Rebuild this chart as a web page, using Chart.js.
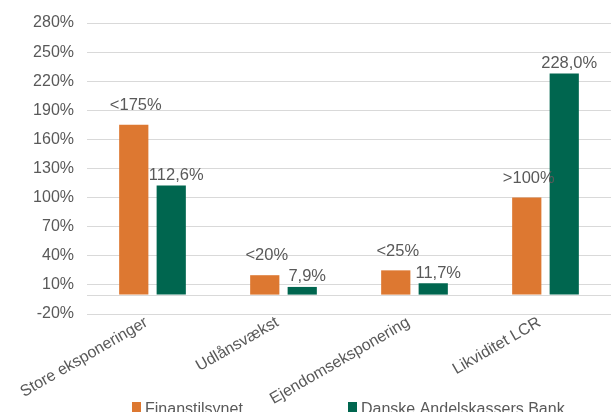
<!DOCTYPE html>
<html>
<head>
<meta charset="utf-8">
<script src="https://cdn.jsdelivr.net/npm/chart.js@4"></script>
<style>
  body { margin: 0; background: #fff; }
  #wrap { width: 611px; height: 412px; position: relative; }
</style>
</head>
<body>
<div id="wrap"><canvas id="chart"></canvas></div>
<script>
// data
const categories = ['Store eksponeringer', 'Udlånsvækst', 'Ejendomseksponering', 'Likviditet LCR'];
const seriesNames = ['Finanstilsynet', 'Danske Andelskassers Bank'];
const finansValues = [175, 20, 25, 100];
const bankValues = [112.6, 7.9, 11.7, 228.0];
const finansLabels = ['<175%', '<20%', '<25%', '>100%'];
const bankLabels = ['112,6%', '7,9%', '11,7%', '228,0%'];
const yTicks = [-20, 10, 40, 70, 100, 130, 160, 190, 220, 250, 280];

const ORANGE = '#DD7831';
const GREEN = '#00664F';
const TEXT = '#595959';
const GRID = '#d9d9d9';
const FONT = '"Liberation Sans", Arial, sans-serif';

// labels over the bars
const barLabels = {
    id: 'barLabels',
    afterDatasetsDraw(chart) {
        const ctx = chart.ctx;
        const all = [finansLabels, bankLabels];
        const dx = [2, 5];
        const dy = [14, 5];
        ctx.save();
        ctx.font = '16.5px ' + FONT;
        ctx.fillStyle = TEXT;
        ctx.textAlign = 'center';
        ctx.textBaseline = 'bottom';
        chart.data.datasets.forEach((ds, i) => {
            chart.getDatasetMeta(i).data.forEach((bar, j) => {
                ctx.fillText(all[i][j], bar.x + dx[i], bar.y - dy[i] + 3);
            });
        });
        ctx.restore();
    }
};

// line at 0 (axis line)
const zeroLine = {
    id: 'zeroLine',
    beforeDatasetsDraw(chart) {
        const ctx = chart.ctx;
        const y = Math.round(chart.scales.y.getPixelForValue(0)) + 0.5;
        ctx.save();
        ctx.strokeStyle = GRID;
        ctx.lineWidth = 1;
        ctx.beginPath();
        ctx.moveTo(chart.chartArea.left, y);
        ctx.lineTo(chart.chartArea.right, y);
        ctx.stroke();
        ctx.restore();
    }
};

// legend at the bottom, like the original
const bottomLegend = {
    id: 'bottomLegend',
    afterDraw(chart) {
        const ctx = chart.ctx;
        const xs = [132, 348];
        ctx.save();
        ctx.font = '16px ' + FONT;
        ctx.textAlign = 'left';
        ctx.textBaseline = 'alphabetic';
        chart.data.datasets.forEach((ds, i) => {
            ctx.fillStyle = ds.backgroundColor;
            ctx.fillRect(xs[i], 402, 9, 10);
            ctx.fillStyle = TEXT;
            ctx.fillText(ds.label, xs[i] + 13, 413.5);
        });
        ctx.restore();
    }
};

const chart = new Chart(document.getElementById('chart'), {
    type: 'bar',
    data: {
        labels: categories,
        datasets: [{
            label: seriesNames[0],
            data: finansValues,
            backgroundColor: ORANGE,
            categoryPercentage: 0.572,
            barPercentage: 0.78
        }, {
            label: seriesNames[1],
            data: bankValues,
            backgroundColor: GREEN,
            categoryPercentage: 0.572,
            barPercentage: 0.78
        }]
    },
    options: {
        responsive: true,
        maintainAspectRatio: false,
        animation: false,
        layout: { padding: { top: 23, right: -3, bottom: 0, left: 0 } },
        plugins: {
            legend: { display: false },
            tooltip: { enabled: false }
        },
        scales: {
            x: {
                grid: { display: false },
                border: { display: false },
                ticks: {
                    color: TEXT,
                    font: { family: FONT, size: 16 },
                    minRotation: 30,
                    maxRotation: 30,
                    autoSkip: false,
                    padding: -9,
                    labelOffset: -6
                },
                afterFit: s => { s.height = 98; }
            },
            y: {
                min: yTicks[0],
                max: yTicks[yTicks.length - 1],
                afterBuildTicks: s => { s.ticks = yTicks.map(v => ({ value: v })); },
                grid: { color: GRID, drawTicks: false },
                border: { display: false },
                ticks: {
                    color: TEXT,
                    font: { family: FONT, size: 16 },
                    padding: 13,
                    callback: v => v + '%'
                },
                afterFit: s => { s.width = 87; }
            }
        }
    },
    plugins: [zeroLine, barLabels, bottomLegend]
});
</script>
</body>
</html>
